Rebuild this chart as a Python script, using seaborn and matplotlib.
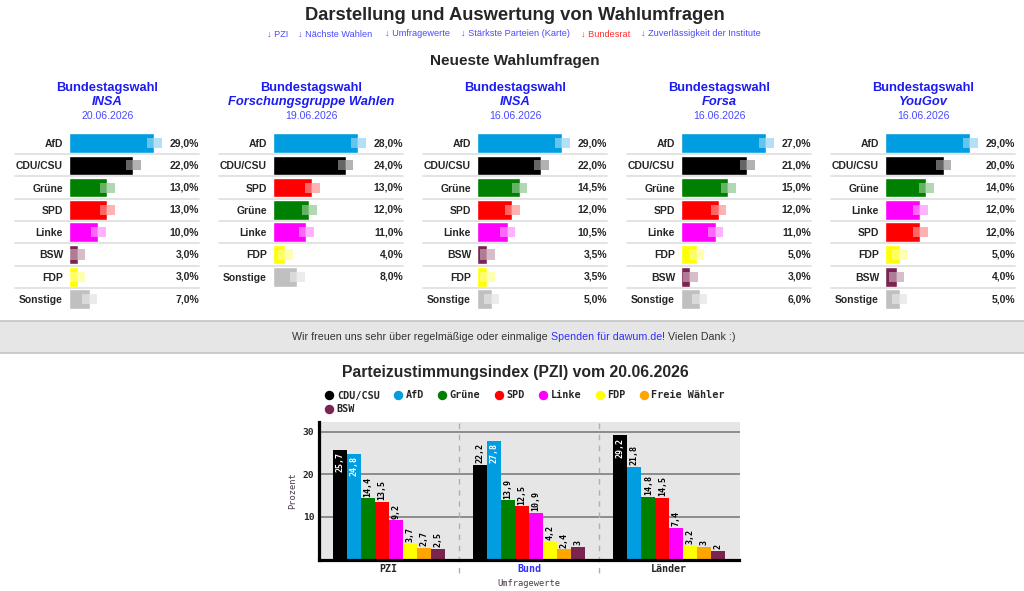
import numpy as np
import pandas as pd
import matplotlib
matplotlib.use('Agg')
import matplotlib.pyplot as plt
from matplotlib.lines import Line2D
import seaborn as sns

# ---------------------------------------------------------------- data
party_colors = {'AfD': '#009ee0', 'CDU/CSU': '#000000', 'Grüne': '#008000', 'SPD': '#ff0000',
                'Linke': '#ff00ff', 'BSW': '#7b2450', 'FDP': '#ffff00', 'Sonstige': '#c0c0c0',
                'Freie Wähler': '#ffa500'}

institutes = ['INSA', 'Forschungsgruppe Wahlen', 'INSA', 'Forsa', 'YouGov']
dates = ['20.06.2026', '19.06.2026', '16.06.2026', '16.06.2026', '16.06.2026']

parties_1 = ['AfD', 'CDU/CSU', 'Grüne', 'SPD', 'Linke', 'BSW', 'FDP', 'Sonstige']
values_1 = [29.0, 22.0, 13.0, 13.0, 10.0, 3.0, 3.0, 7.0]
parties_2 = ['AfD', 'CDU/CSU', 'SPD', 'Grüne', 'Linke', 'FDP', 'Sonstige']
values_2 = [28.0, 24.0, 13.0, 12.0, 11.0, 4.0, 8.0]
parties_3 = ['AfD', 'CDU/CSU', 'Grüne', 'SPD', 'Linke', 'BSW', 'FDP', 'Sonstige']
values_3 = [29.0, 22.0, 14.5, 12.0, 10.5, 3.5, 3.5, 5.0]
parties_4 = ['AfD', 'CDU/CSU', 'Grüne', 'SPD', 'Linke', 'FDP', 'BSW', 'Sonstige']
values_4 = [27.0, 21.0, 15.0, 12.0, 11.0, 5.0, 3.0, 6.0]
parties_5 = ['AfD', 'CDU/CSU', 'Grüne', 'Linke', 'SPD', 'FDP', 'BSW', 'Sonstige']
values_5 = [29.0, 20.0, 14.0, 12.0, 12.0, 5.0, 4.0, 5.0]

pzi_groups = ['PZI', 'Bund', 'Länder']
pzi_parties = ['CDU/CSU', 'AfD', 'Grüne', 'SPD', 'Linke', 'FDP', 'Freie Wähler', 'BSW']
pzi_values = [25.7, 24.8, 14.4, 13.5, 9.2, 3.7, 2.7, 2.5]
bund_values = [22.2, 27.8, 13.9, 12.5, 10.9, 4.2, 2.4, 3.0]
laender_values = [29.2, 21.8, 14.8, 14.5, 7.4, 3.2, 3.0, 2.0]

links = ['↓ PZI', '↓ Nächste Wahlen', '↓ Umfragewerte', '↓ Stärkste Parteien (Karte)',
         '↓ Bundesrat', '↓ Zuverlässigkeit der Institute']

# ---------------------------------------------------------------- setup
sns.set_theme(style='white')
plt.rcParams['font.family'] = ['Liberation Sans', 'DejaVu Sans']
MONO = ['DejaVu Sans Mono']
W, H = 1024, 591
fig = plt.figure(figsize=(W / 100, H / 100), dpi=100)
fig.patch.set_facecolor('white')

def fx(x):
    return x / W

def fy(y):
    return 1 - y / H

def px_axes(left, top, width, height):
    return fig.add_axes([left / W, 1 - (top + height) / H, width / W, height / H])

BLUE = '#1c1cf0'
LINK = '#4a4aff'

# ---------------------------------------------------------------- header
fig.text(fx(515), fy(15), 'Darstellung und Auswertung von Wahlumfragen', ha='center', va='center',
         fontsize=13.2, fontweight='bold')
link_x = [267, 298, 385, 461, 581, 641]
for lx, lt in zip(link_x, links):
    fig.text(fx(lx), fy(34), lt, ha='left', va='center', fontsize=6.6,
             color='#ff3030' if 'Bundesrat' in lt else LINK)
fig.text(fx(515), fy(61), 'Neueste Wahlumfragen', ha='center', va='center', fontsize=11, fontweight='bold')

# ---------------------------------------------------------------- poll panels
panels = [(parties_1, values_1), (parties_2, values_2), (parties_3, values_3),
          (parties_4, values_4), (parties_5, values_5)]
row_h = 22.3
for k, (parties, values) in enumerate(panels):
    cx = 107.5 + k * 204
    fig.text(fx(cx), fy(88), 'Bundestagswahl', ha='center', va='center', fontsize=9.3,
             fontweight='bold', color=BLUE)
    fig.text(fx(cx), fy(102.5), institutes[k], ha='center', va='center', fontsize=9.3,
             fontweight='bold', fontstyle='italic', color=BLUE)
    fig.text(fx(cx), fy(116), dates[k], ha='center', va='center', fontsize=7.6, color=LINK)

    bar_left = cx - 38.5
    ax_w = 130
    ax = px_axes(bar_left, 143 - row_h / 2, ax_w, row_h * 8)
    vals = np.array(values)
    vmax = vals.max()
    sns.barplot(x=values, y=parties, hue=parties, palette=party_colors, orient='h', width=0.87,
                saturation=1, legend=False, ax=ax)
    # pale marker at the end of each bar
    gw = 15 * vmax / 85
    ax.barh(np.arange(len(values)), gw / 2, left=vals - gw / 2, height=0.45, color='white',
            alpha=0.4, linewidth=0)
    ax.barh(np.arange(len(values)), gw / 2, left=vals, height=0.45,
            color=[party_colors[p] for p in parties], alpha=0.3, linewidth=0)
    ax.set_xlim(0, vmax * ax_w / 85)
    ax.set_ylim(7.5, -0.5)
    ax.set_xlabel('')
    ax.set_ylabel('')
    ax.set_xticks([])
    ax.tick_params(axis='y', length=0, pad=4.3, labelsize=7.5)
    for lab in ax.get_yticklabels():
        lab.set_fontweight('bold')
    for s in ax.spines.values():
        s.set_visible(False)
    ax.patch.set_alpha(0)
    for i, v in enumerate(values):
        ax.text(1.0, i, f'{v:.1f}'.replace('.', ',') + '%', transform=ax.get_yaxis_transform(),
                ha='right', va='center', fontsize=7.5, fontweight='bold')
    for i in range(len(values) - 1):
        ax.axhline(i + 0.5, xmin=-54 / ax_w, xmax=1, color='#e0e0e0', lw=1.3, clip_on=False)

# ---------------------------------------------------------------- donation band
band = px_axes(0, 321, 1024, 32)
band.set_facecolor('#e6e6e6')
band.set_xticks([])
band.set_yticks([])
for s in ['left', 'right']:
    band.spines[s].set_visible(False)
for s in ['top', 'bottom']:
    band.spines[s].set_color('#c4c4c4')
    band.spines[s].set_linewidth(1.2)

parts = [('Wir freuen uns sehr über regelmäßige oder einmalige ', '#333333'),
         ('Spenden für dawum.de', '#3030ff'), ('! Vielen Dank :)', '#333333')]
renderer = fig.canvas.get_renderer()
texts = [fig.text(0, fy(337.5), t, color=c, fontsize=7.65, ha='left', va='center') for t, c in parts]
widths = [t.get_window_extent(renderer).width for t in texts]
x0 = 514 - sum(widths) / 2
for t, w in zip(texts, widths):
    t.set_x(fx(x0))
    x0 += w

# ---------------------------------------------------------------- PZI chart
fig.text(fx(515), fy(373), 'Parteizustimmungsindex (PZI) vom 20.06.2026', ha='center', va='center',
         fontsize=11.3, fontweight='bold')

df = pd.DataFrame({'Gruppe': np.repeat(pzi_groups, len(pzi_parties)),
                   'Partei': pzi_parties * len(pzi_groups),
                   'Wert': pzi_values + bund_values + laender_values})

ax = px_axes(318.5, 422, 421, 137.5)
ax.set_facecolor('#e6e6e6')
ax.set_axisbelow(True)
sns.barplot(data=df, x='Gruppe', y='Wert', hue='Partei', hue_order=pzi_parties, order=pzi_groups,
            palette=party_colors, width=0.8, saturation=1, legend=False, linewidth=0, ax=ax)
ax.set_ylim(0, 32.35)
ax.set_xlim(-0.5, 2.5)
ax.set_yticks([10, 20, 30])
ax.yaxis.grid(True, color='#8c8c8c', lw=1.4)
for xs in [0.5, 1.5]:
    ax.axvline(xs, ymin=-0.1, ymax=1, color='#b0b0b0', lw=1, ls=(0, (4, 4)), clip_on=False)
for s in ['top', 'right']:
    ax.spines[s].set_visible(False)
for s in ['left', 'bottom']:
    ax.spines[s].set_color('black')
    ax.spines[s].set_linewidth(2.3)
ax.tick_params(length=0, pad=3)
for lab in ax.get_yticklabels():
    lab.set_family(MONO)
    lab.set_fontweight('bold')
    lab.set_fontsize(6.8)
for lab in ax.get_xticklabels():
    lab.set_family(MONO)
    lab.set_fontweight('bold')
    lab.set_fontsize(7.2)
    if lab.get_text() == 'Bund':
        lab.set_color('#3030ff')
ax.set_ylabel('Prozent', family=MONO, fontsize=6.2, color='#4a3a4a', labelpad=4)
ax.set_xlabel('Umfragewerte', family=MONO, fontsize=6.3, color='#4a3a4a', labelpad=4)

for cont in ax.containers:
    for bar in cont:
        h = bar.get_height()
        lab = f'{h:g}'.replace('.', ',')
        xc = bar.get_x() + bar.get_width() / 2
        if h > 24:
            ax.text(xc, h - 0.5, lab, rotation=90, ha='center', va='top', color='white',
                    family=MONO, fontweight='bold', fontsize=6)
        else:
            ax.text(xc, h + 0.4, lab, rotation=90, ha='center', va='bottom', color='black',
                    family=MONO, fontweight='bold', fontsize=6)

# legend with round markers, BSW on a second row
leg_order = ['CDU/CSU', 'BSW', 'AfD', 'Grüne', 'SPD', 'Linke', 'FDP', 'Freie Wähler']
handles = [Line2D([], [], marker='o', ls='', color=party_colors[p], markersize=5.8) for p in leg_order]
fig.legend(handles, leg_order, loc='upper left', bbox_to_anchor=(fx(325.3), fy(390.5)), ncol=7,
           frameon=False, borderpad=0, borderaxespad=0, handlelength=0.8, handletextpad=0.34,
           columnspacing=1.41, labelspacing=0.35,
           prop={'family': MONO, 'weight': 'bold', 'size': 7.3})

fig.savefig('out.png', dpi=100)
